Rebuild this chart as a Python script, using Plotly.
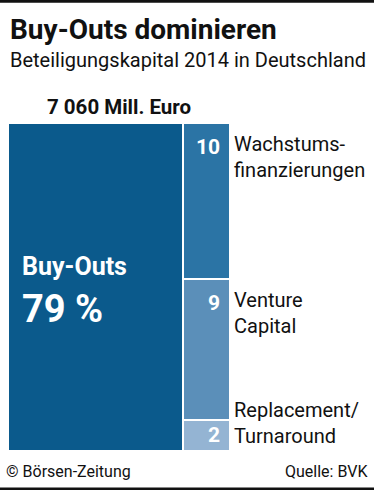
import plotly.graph_objects as go

# ---- data ----
main_cat = "Buy-Outs"
main_val = 79
side_cats = ["Replacement/<br>Turnaround", "Venture<br>Capital", "Wachstums-<br>finanzierungen"]
side_vals = [2, 9, 10]
main_color = "#0b5a8c"
side_colors = ["#94b4d3", "#5b8fb9", "#2b74a5"]
total_label = "7 060 Mill. Euro"
title = "Buy-Outs dominieren"
subtitle = "Beteiligungskapital 2014 in Deutschland"
source = "Quelle: BVK"
credit = "© Börsen-Zeitung"

FONT = "Roboto, sans-serif"
W, H = 374, 490
# pixel box that the 0..100 x 0..100 chart occupies
BX0, BX1, BY0, BY1 = 8, 230, 123, 451


def px(x):
    return x / W


def py(y):
    return 1 - y / H


# axis ranges so that data 0..100 lands on the pixel box, with the full figure as plot area
sx = 100 / (BX1 - BX0)
sy = 100 / (BY1 - BY0)
xrange_ = [-BX0 * sx, (W - BX0) * sx]
yrange_ = [-(H - BY1) * sy, BY1 * sy]

side_total = sum(side_vals)
fig = go.Figure()
fig.add_trace(go.Bar(x=[main_val / 2], y=[100], width=[main_val], marker_color=main_color,
                     marker_line=dict(color="white", width=2), hoverinfo="skip"))
for v, c in zip(side_vals, side_colors):
    fig.add_trace(go.Bar(x=[main_val + side_total / 2], y=[v / side_total * 100], width=[side_total],
                         marker_color=c, marker_line=dict(color="white", width=2), hoverinfo="skip"))

ann = []
cum = 0
for i, (v, name) in enumerate(zip(side_vals, side_cats)):
    top = (cum + v) / side_total * 100
    mid = (cum + v / 2) / side_total * 100
    if i == 0:
        ann.append(dict(x=100, y=mid, xref="x", yref="y", text=f"<b>{v}</b>", xanchor="right", yanchor="middle",
                        xshift=-8, showarrow=False, font=dict(size=21, color="white", family=FONT)))
        ann.append(dict(x=100, y=mid, xref="x", yref="y", text=name, xanchor="left", yanchor="middle",
                        xshift=2, yshift=12, showarrow=False, align="left",
                        font=dict(size=20, color="#111", family=FONT)))
    else:
        ann.append(dict(x=100, y=top, xref="x", yref="y", text=f"<b>{v}</b>", xanchor="right", yanchor="top",
                        xshift=-8, yshift=-10, showarrow=False, font=dict(size=21, color="white", family=FONT)))
        ann.append(dict(x=100, y=top, xref="x", yref="y", text=name, xanchor="left", yanchor="top",
                        xshift=2, yshift=-7, showarrow=False, align="left",
                        font=dict(size=20, color="#111", family=FONT)))
    cum += v

ann += [
    dict(x=0, y=py(266), xref="x", yref="paper", text=f"<b>{main_cat}</b>", xanchor="left", yanchor="middle",
         xshift=12, showarrow=False, font=dict(size=25, color="white", family=FONT)),
    dict(x=0, y=py(309), xref="x", yref="paper", text=f"<b>{main_val} %</b>", xanchor="left", yanchor="middle",
         xshift=12, showarrow=False, font=dict(size=38, color="white", family=FONT)),
    dict(x=50, y=py(107), xref="x", yref="paper", text=f"<b>{total_label}</b>", xanchor="center",
         yanchor="middle", showarrow=False, font=dict(size=20.5, color="#111", family=FONT)),
    dict(x=px(8), y=py(29), xref="paper", yref="paper", text=f"<b>{title}</b>", xanchor="left",
         yanchor="middle", showarrow=False, font=dict(size=28, color="#111", family=FONT)),
    dict(x=px(8), y=py(60), xref="paper", yref="paper", text=subtitle, xanchor="left",
         yanchor="middle", showarrow=False, font=dict(size=20, color="#111", family=FONT)),
    dict(x=px(4), y=py(471), xref="paper", yref="paper", text=credit, xanchor="left",
         yanchor="middle", showarrow=False, font=dict(size=16, color="#111", family=FONT)),
    dict(x=px(370), y=py(471), xref="paper", yref="paper", text=source, xanchor="right",
         yanchor="middle", showarrow=False, font=dict(size=16, color="#111", family=FONT)),
]

shapes = [
    dict(type="rect", xref="paper", yref="paper", x0=0, x1=1, y0=py(0), y1=py(2.7),
         fillcolor="#111111", line=dict(width=0), layer="above"),
    dict(type="rect", xref="paper", yref="paper", x0=0, x1=1, y0=py(487.5), y1=py(H),
         fillcolor="#111111", line=dict(width=0), layer="above"),
]

fig.update_layout(
    width=W, height=H, barmode="stack", bargap=0, showlegend=False,
    margin=dict(l=0, r=0, t=0, b=0, pad=0),
    paper_bgcolor="white", plot_bgcolor="white",
    xaxis=dict(range=xrange_, visible=False, fixedrange=True),
    yaxis=dict(range=yrange_, visible=False, fixedrange=True),
    annotations=ann, shapes=shapes,
)
fig.write_html("out.html", config={"displayModeBar": False},
               post_script="document.body.style.margin='0';document.body.style.overflow='hidden';")
